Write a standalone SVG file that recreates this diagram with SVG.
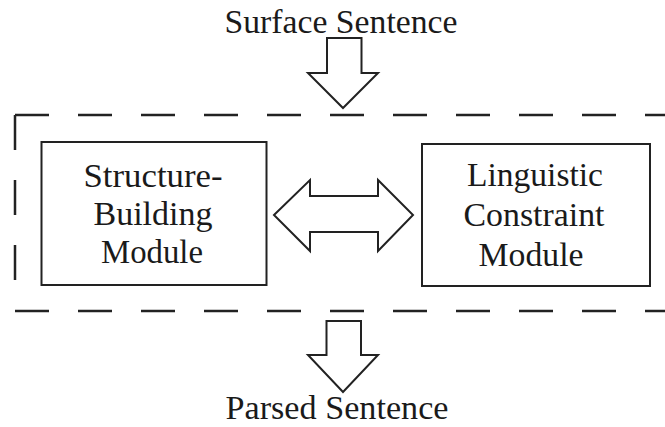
<svg xmlns="http://www.w3.org/2000/svg" width="665" height="427" viewBox="0 0 665 427">
<style>
  .lbl { font-family: "Liberation Serif", "DejaVu Serif", serif; font-size: 34px; fill: #1a1a1a; text-anchor: middle; }
  .box { fill: #fff; stroke: #222; stroke-width: 2; }
  .arrow { fill: #fff; stroke: #222; stroke-width: 2; stroke-linejoin: miter; }
  .dash { fill: none; stroke: #222; stroke-width: 2.5; }
</style>
<rect width="665" height="427" fill="#fff"/>
<g id="parser-boundary">
  <line class="dash" x1="15" y1="115" x2="665" y2="115" stroke-dasharray="34 29"/>
  <line class="dash" x1="15" y1="115" x2="15" y2="281" stroke-dasharray="35 30"/>
  <line class="dash" x1="15" y1="311" x2="665" y2="311" stroke-dasharray="34 29"/>
</g>
<g id="surface-sentence">
  <text class="lbl" x="341" y="33" textLength="233" lengthAdjust="spacingAndGlyphs">Surface Sentence</text>
</g>
<g id="structure-building-module">
  <rect class="box" x="41.5" y="142" width="225" height="143"/>
  <text class="lbl" x="153" y="187" textLength="139" lengthAdjust="spacingAndGlyphs">Structure-</text>
  <text class="lbl" x="153" y="225" textLength="119" lengthAdjust="spacingAndGlyphs">Building</text>
  <text class="lbl" x="152" y="263" textLength="102" lengthAdjust="spacingAndGlyphs">Module</text>
</g>
<g id="linguistic-constraint-module">
  <rect class="box" x="422" y="144" width="228" height="142"/>
  <text class="lbl" x="535" y="186" textLength="136" lengthAdjust="spacingAndGlyphs">Linguistic</text>
  <text class="lbl" x="534" y="226" textLength="141" lengthAdjust="spacingAndGlyphs">Constraint</text>
  <text class="lbl" x="531" y="266" textLength="105" lengthAdjust="spacingAndGlyphs">Module</text>
</g>
<g id="parsed-sentence">
  <text class="lbl" x="337" y="419" textLength="223" lengthAdjust="spacingAndGlyphs">Parsed Sentence</text>
</g>
<g id="connectors">
  <path class="arrow" d="M327,38 H361.5 V73 H378 L343,108 L308,73 H327 Z"/>
  <path class="arrow" d="M274,215 L310,180 V196 H378 V180 L413,215 L378,251 V232 H310 V251 Z"/>
  <path class="arrow" d="M326.5,321 H361 V355 H378 L343,392 L308,355 H326.5 Z"/>
</g>
</svg>
